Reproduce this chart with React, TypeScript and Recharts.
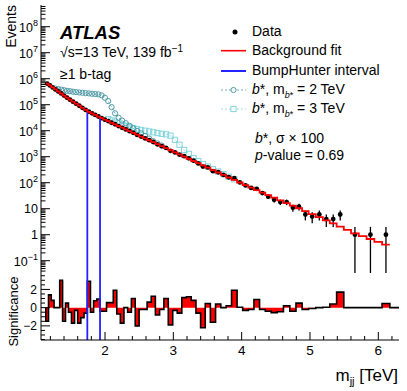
import React from "react";
import {
  ComposedChart,
  Line,
  Scatter,
  Area,
  XAxis,
  YAxis,
  ErrorBar,
  ReferenceLine,
} from "recharts";

const FONT = "'Liberation Sans', Arial, Helvetica, sans-serif";
const TEAL = "#4f9ba6";
const CYAN = "#83d5dc";
const BLUE = "#2323ff";

// axis ranges (TeV, events, significance)
const X_MIN = 1.063;
const X_MAX = 6.303;
const Y_MIN = 0.0337;
const Y_MAX = 6.84e8;
const SIG_MIN = -3.55;
const SIG_MAX = 3.8;

// mjj bin edges [TeV]
const binEdges = [
  1.133, 1.173, 1.213, 1.254, 1.295, 1.337, 1.379, 1.422, 1.465, 1.509,
  1.554, 1.6, 1.646, 1.693, 1.741, 1.787, 1.833, 1.88, 1.927, 1.974,
  2.022, 2.071, 2.121, 2.172, 2.224, 2.277, 2.331, 2.386, 2.442, 2.499,
  2.557, 2.616, 2.676, 2.737, 2.799, 2.862, 2.926, 2.991, 3.057, 3.124,
  3.192, 3.261, 3.331, 3.399, 3.467, 3.542, 3.618, 3.695, 3.773, 3.852,
  3.933, 4.015, 4.098, 4.18, 4.262, 4.346, 4.432, 4.52, 4.612, 4.705,
  4.795, 4.885, 4.98, 5.085, 5.188, 5.29, 5.39, 5.495, 5.601, 5.715,
  5.828, 5.942, 6.055, 6.169,
];

// background fit per bin
const bkgFit = [
  652000, 550000, 461000, 386000, 324000, 270000, 225000, 187000, 157000, 132000,
  110000, 91600, 76200, 63100, 53500, 46600, 40500, 35100, 30500, 26700,
  23300, 20200, 17500, 15200, 13100, 11200, 9640, 8240, 7030, 5970,
  5070, 4290, 3610, 3030, 2550, 2130, 1770, 1480, 1220, 1010,
  834, 684, 564, 465, 379, 307, 247, 199, 159, 128,
  102, 81.5, 64.9, 51.9, 41.3, 33.2, 26.5, 21.0, 16.4, 13.1,
  10.4, 8.13, 6.22, 4.72, 3.57, 2.71, 2.04, 1.53, 1.13, 0.877,
  0.684, 0.533, 0.415,
];

// observed events per bin
const dataCounts = [
  650790, 551040, 461540, 386000, 324000, 271560, 224290, 187220, 156800, 131380,
  109900, 91085, 75896, 62950, 54170, 46492, 40651, 35278, 30430, 26635,
  23384, 20278, 17751, 15114, 12906, 11200, 9591, 8331, 6862, 5955,
  5056, 4329, 3685, 2986, 2540, 2176, 1690, 1468, 1199, 1045,
  869, 705, 550, 418, 388, 279, 253, 199, 162, 149,
  103, 79, 63, 58, 40, 29, 22, 18, 18, 11,
  12, 6, 5, 6, 4, 4, 6, 0, 1, 0,
  1, 0, 1,
];

// bin-by-bin significance
const significance = [
  -1.5, 1.4, 0.8, 0, 0, 3.0, -1.5, 0.5, -0.5, -1.7,
  -0.3, -1.7, -1.1, -0.6, 2.9, -0.5, 0.75, 0.95, -0.4, -0.4,
  0.55, 0.55, 1.9, -0.7, -1.7, 0, -0.5, 1.0, -2.0, -0.2,
  -0.2, 0.6, 1.25, -0.8, -0.2, 1.0, -1.9, -0.3, -0.6, 1.1,
  1.2, 0.8, -0.6, -2.2, 0.45, -1.6, 0.4, 0, 0.2, 1.9,
  0.05, -0.3, -0.2, 0.9, -0.2, -0.4, -0.55, -0.45, 0.2, -0.4,
  0.5, -0.2, -0.1, 0, 0.05, 0.4, 1.7, 0, 0, 0,
  0, 0, 0.45,
];

// b* (m = 2 TeV) + background, starting at bin index 3
const bStar2First = 3;
const bStar2 = [
  417000, 398000, 380000, 359000, 343000, 331000, 316000, 305000, 295000, 288000,
  279000, 272000, 263000, 257000, 251000, 229000, 186000, 138000, 81300, 46800,
  31600, 24500, 19500, 15500, 12300, 9770, 7940, 6310, 5010, 3980,
  3240, 2690,
];

// b* (m = 3 TeV) + background, starting at bin index 20
const bStar3First = 20;
const bStar3 = [
  28200, 25100, 22400, 20000, 17400, 15500, 13800, 12600, 11500, 10700,
  10000, 9330, 8710, 8130, 7590, 7240, 6460, 4470, 2880, 1820,
  1290, 891, 676, 525, 417, 331, 269, 214, 170, 135,
];

const bumpHunter = [1.741, 1.927];

const xTicks = [
  1.2, 1.4, 1.6, 1.8, 2, 2.2, 2.4, 2.6, 2.8, 3, 3.2, 3.4, 3.6, 3.8, 4, 4.2,
  4.4, 4.6, 4.8, 5, 5.2, 5.4, 5.6, 5.8, 6, 6.2,
];
const sigTicks = [-3.5, -3, -2.5, -2, -1.5, -1, -0.5, 0, 0.5, 1, 1.5, 2, 2.5, 3, 3.5];

const yTicks: number[] = [];
for (let e = -2; e <= 8; e++) {
  for (let m = 1; m <= 9; m++) {
    const v = m * Math.pow(10, e);
    if (v >= Y_MIN && v <= Y_MAX) yTicks.push(v);
  }
}

const centers = bkgFit.map((_, i) => (binEdges[i] + binEdges[i + 1]) / 2);
const nBins = bkgFit.length;

const fitSteps = binEdges.map((e, i) => ({ x: e, y: bkgFit[Math.min(i, nBins - 1)] }));

const dataPts = dataCounts
  .map((n, i) => ({
    x: centers[i],
    y: n,
    err: [Math.min(Math.sqrt(n), n - Y_MIN), Math.sqrt(n)],
  }))
  .filter((d) => d.y > 0);

const b2Pts = bStar2.map((v, i) => ({ x: centers[bStar2First + i], y: v }));
const b3Pts = bStar3.map((v, i) => ({ x: centers[bStar3First + i], y: v }));

const sigSteps = [
  { x: binEdges[0], s: 0 },
  ...significance.map((s, i) => ({ x: binEdges[i], s })),
  { x: binEdges[nBins], s: significance[nBins - 1] },
  { x: binEdges[nBins], s: 0 },
  { x: X_MAX, s: 0 },
];

const isInt = (v: number) => Math.abs(v - Math.round(v)) < 1e-6;
const isDecade = (v: number) => isInt(Math.log10(v));
const isEven = (v: number) => isInt(v / 2);

type Dir = "up" | "down" | "left" | "right";

function makeTick(
  dir: Dir,
  isMajor: (v: number) => boolean,
  major: number,
  minor: number,
  label?: (x: number, y: number, v: number) => React.ReactNode
) {
  // eslint-disable-next-line @typescript-eslint/no-explicit-any
  return (props: any) => {
    const { x, y, payload } = props;
    const v = payload.value;
    const mj = isMajor(v);
    const len = mj ? major : minor;
    let x2 = x;
    let y2 = y;
    if (dir === "up") y2 = y - len;
    else if (dir === "down") y2 = y + len;
    else if (dir === "right") x2 = x + len;
    else x2 = x - len;
    return (
      <g key={`t-${dir}-${v}`}>
        <line x1={x} y1={y} x2={x2} y2={y2} stroke="#000" strokeWidth={1} />
        {mj && label ? label(x, y, v) : null}
      </g>
    );
  };
}

const logLabel = (x: number, y: number, v: number) => {
  const n = Math.round(Math.log10(v));
  if (n === 0 || n === 1) {
    return (
      <text x={x - 3} y={y + 4.5} textAnchor="end" fontFamily={FONT} fontSize={12.5} fill="#000">
        {n === 0 ? "1" : "10"}
      </text>
    );
  }
  return (
    <text x={x - 3} y={y + 5.5} textAnchor="end" fontFamily={FONT} fontSize={12.5} fill="#000">
      10
      <tspan dy={-6} fontSize={9}>
        {n < 0 ? `\u2212${-n}` : n}
      </tspan>
    </text>
  );
};

const sigLabel = (x: number, y: number, v: number) => (
  <text x={x - 4} y={y + 4.3} textAnchor="end" fontFamily={FONT} fontSize={12} fill="#000">
    {v < 0 ? `\u2212${-v}` : v}
  </text>
);

const xLabel = (x: number, y: number, v: number) => (
  <text x={x} y={y + 15} textAnchor="middle" fontFamily={FONT} fontSize={13.5} fill="#000">
    {v}
  </text>
);

// eslint-disable-next-line @typescript-eslint/no-explicit-any
const dataDot = (p: any) => <circle cx={p.cx} cy={p.cy} r={2.4} fill="#000" />;
// eslint-disable-next-line @typescript-eslint/no-explicit-any
const circleDot = (p: any) => (
  <circle key={`c${p.index}`} cx={p.cx} cy={p.cy} r={2.6} fill="none" stroke={TEAL} strokeWidth={1} />
);
// eslint-disable-next-line @typescript-eslint/no-explicit-any
const squareDot = (p: any) => (
  <rect key={`s${p.index}`} x={p.cx - 2.6} y={p.cy - 2.6} width={5.2} height={5.2} fill="none" stroke={CYAN} strokeWidth={1} />
);

const axisLine = { stroke: "#000", strokeWidth: 1 };

// main panel is drawn in two stacked layers so the fit sits above the data points
function MainPanel({ layer }: { layer: "under" | "over" }) {
  const over = layer === "over";
  const bhIdx = bumpHunter.map((e) => binEdges.indexOf(e));
  return (
    <ComposedChart width={407} height={273} margin={{ top: 5, right: 8, bottom: 0, left: 0 }}>
      <XAxis
        xAxisId="b"
        dataKey="x"
        type="number"
        domain={[X_MIN, X_MAX]}
        allowDataOverflow
        ticks={xTicks}
        interval={0}
        height={0}
        tickSize={0}
        tickMargin={0}
        tickLine={false}
        axisLine={over ? axisLine : false}
        tick={over ? makeTick("up", isInt, 7, 3.5) : false}
      />
      <XAxis
        xAxisId="t"
        orientation="top"
        type="number"
        domain={[X_MIN, X_MAX]}
        allowDataOverflow
        ticks={xTicks}
        interval={0}
        height={0}
        tickSize={0}
        tickMargin={0}
        tickLine={false}
        axisLine={over ? axisLine : false}
        tick={over ? makeTick("down", isInt, 7, 3.5) : false}
      />
      <YAxis
        yAxisId="l"
        type="number"
        scale="log"
        domain={[Y_MIN, Y_MAX]}
        allowDataOverflow
        ticks={yTicks}
        interval={0}
        width={41}
        tickSize={0}
        tickMargin={0}
        tickLine={false}
        axisLine={over ? axisLine : false}
        tick={over ? makeTick("right", isDecade, 9, 4.5, logLabel) : false}
      />
      <YAxis
        yAxisId="r"
        orientation="right"
        type="number"
        scale="log"
        domain={[Y_MIN, Y_MAX]}
        allowDataOverflow
        ticks={yTicks}
        interval={0}
        width={0}
        tickSize={0}
        tickMargin={0}
        tickLine={false}
        axisLine={over ? axisLine : false}
        tick={over ? makeTick("left", isDecade, 9, 4.5) : false}
      />
      {!over && (
        <Line
          xAxisId="b"
          yAxisId="l"
          data={b3Pts}
          dataKey="y"
          type="linear"
          stroke={CYAN}
          strokeWidth={0.8}
          strokeDasharray="2 2"
          dot={squareDot}
          isAnimationActive={false}
        />
      )}
      {!over && (
        <Line
          xAxisId="b"
          yAxisId="l"
          data={b2Pts}
          dataKey="y"
          type="linear"
          stroke={TEAL}
          strokeWidth={0.8}
          strokeDasharray="2 2"
          dot={circleDot}
          isAnimationActive={false}
        />
      )}
      {!over && (
        <Scatter
          xAxisId="b"
          yAxisId="l"
          data={dataPts}
          dataKey="y"
          shape={dataDot}
          isAnimationActive={false}
        >
          <ErrorBar dataKey="err" direction="y" width={0} stroke="#000" strokeWidth={1.3} isAnimationActive={false} />
        </Scatter>
      )}
      {over &&
        bumpHunter.map((e, k) => (
          <ReferenceLine
            key={`bh${k}`}
            xAxisId="b"
            yAxisId="l"
            segment={[
              { x: e, y: Y_MIN },
              { x: e, y: bkgFit[bhIdx[k] - 1] },
            ]}
            stroke={BLUE}
            strokeWidth={1.8}
            ifOverflow="visible"
          />
        ))}
      {over && (
        <Line
          xAxisId="b"
          yAxisId="l"
          data={fitSteps}
          dataKey="y"
          type="stepAfter"
          stroke="#ff0000"
          strokeWidth={1.8}
          dot={false}
          isAnimationActive={false}
        />
      )}
    </ComposedChart>
  );
}

function SigPanel() {
  return (
    <ComposedChart width={407} height={128} margin={{ top: 10, right: 8, bottom: 0, left: 0 }}>
      <XAxis
        xAxisId="b"
        dataKey="x"
        type="number"
        domain={[X_MIN, X_MAX]}
        allowDataOverflow
        ticks={xTicks}
        interval={0}
        height={51}
        tickSize={0}
        tickMargin={0}
        tickLine={false}
        axisLine={axisLine}
        tick={makeTick("up", isInt, 8, 4, xLabel)}
      />
      <XAxis
        xAxisId="t"
        orientation="top"
        type="number"
        domain={[X_MIN, X_MAX]}
        allowDataOverflow
        ticks={xTicks}
        interval={0}
        height={0}
        tickSize={0}
        tickMargin={0}
        tickLine={false}
        axisLine={axisLine}
        tick={makeTick("down", isInt, 5, 3.5)}
      />
      <YAxis
        yAxisId="l"
        type="number"
        domain={[SIG_MIN, SIG_MAX]}
        allowDataOverflow
        ticks={sigTicks}
        interval={0}
        width={41}
        tickSize={0}
        tickMargin={0}
        tickLine={false}
        axisLine={axisLine}
        tick={makeTick("right", isEven, 9, 4, sigLabel)}
      />
      <YAxis
        yAxisId="r"
        orientation="right"
        type="number"
        domain={[SIG_MIN, SIG_MAX]}
        allowDataOverflow
        ticks={sigTicks}
        interval={0}
        width={0}
        tickSize={0}
        tickMargin={0}
        tickLine={false}
        axisLine={axisLine}
        tick={makeTick("left", isEven, 9, 4)}
      />
      <Area
        xAxisId="b"
        yAxisId="l"
        data={sigSteps}
        dataKey="s"
        type="stepAfter"
        baseValue={0}
        fill="#ff0000"
        fillOpacity={1}
        stroke="none"
        isAnimationActive={false}
      />
      <Line
        xAxisId="b"
        yAxisId="l"
        data={sigSteps}
        dataKey="s"
        type="stepAfter"
        stroke="#000"
        strokeWidth={1.6}
        dot={false}
        isAnimationActive={false}
      />
      {bumpHunter.map((e, k) => (
        <ReferenceLine
          key={`sbh${k}`}
          xAxisId="b"
          yAxisId="l"
          segment={[
            { x: e, y: SIG_MIN },
            { x: e, y: SIG_MAX },
          ]}
          stroke={BLUE}
          strokeWidth={1.8}
        />
      ))}
    </ComposedChart>
  );
}

function Overlay() {
  const t = { fontFamily: FONT, fill: "#000" };
  return (
    <svg
      width={407}
      height={391}
      style={{ position: "absolute", left: 0, top: 0, pointerEvents: "none" }}
    >
      <text {...t} fontSize={14} transform="rotate(-90)" x={-5} y={15.5} textAnchor="end">
        Events
      </text>
      <text {...t} fontSize={13} transform="rotate(-90)" x={-311.5} y={17.5} textAnchor="middle">
        Significance
      </text>
      <text {...t} fontSize={17} x={398} y={381} textAnchor="end">
        m
        <tspan dy={4} fontSize={11}>
          jj
        </tspan>
        <tspan dy={-4}> [TeV]</tspan>
      </text>

      <text {...t} fontSize={18.5} fontWeight="bold" fontStyle="italic" x={60} y={38.5}>
        ATLAS
      </text>
      <text {...t} fontSize={14} x={60} y={57}>
        {"\u221As=13 TeV, 139 fb"}
        <tspan dy={-5} fontSize={10}>
          {"\u22121"}
        </tspan>
      </text>
      <text {...t} fontSize={14} x={60} y={79}>
        {"\u22651 b-tag"}
      </text>

      {/* legend */}
      <circle cx={235} cy={32} r={2.5} fill="#000" />
      <text {...t} fontSize={14} x={252} y={36}>
        Data
      </text>
      <line x1={221} x2={246} y1={50.7} y2={50.7} stroke="#ff0000" strokeWidth={1.6} />
      <text {...t} fontSize={14} x={252} y={55.2}>
        Background fit
      </text>
      <line x1={221} x2={246} y1={71} y2={71} stroke={BLUE} strokeWidth={2} />
      <text {...t} fontSize={14} x={252} y={75}>
        BumpHunter interval
      </text>
      <line x1={221} x2={246} y1={90} y2={90} stroke={TEAL} strokeWidth={0.8} strokeDasharray="2 2" />
      <circle cx={233.5} cy={90} r={2.6} fill="#fff" stroke={TEAL} strokeWidth={1} />
      <text {...t} fontSize={14} x={252} y={93.5}>
        <tspan fontStyle="italic">b</tspan>*, m
        <tspan dy={4} fontSize={9} fontStyle="italic">
          b
        </tspan>
        <tspan fontSize={9}>*</tspan>
        <tspan dy={-4}> = 2 TeV</tspan>
      </text>
      <line x1={221} x2={246} y1={109} y2={109} stroke={CYAN} strokeWidth={0.8} strokeDasharray="2 2" />
      <rect x={230.9} y={106.4} width={5.2} height={5.2} fill="#fff" stroke={CYAN} strokeWidth={1} />
      <text {...t} fontSize={14} x={252} y={112.8}>
        <tspan fontStyle="italic">b</tspan>*, m
        <tspan dy={4} fontSize={9} fontStyle="italic">
          b
        </tspan>
        <tspan fontSize={9}>*</tspan>
        <tspan dy={-4}> = 3 TeV</tspan>
      </text>

      <text {...t} fontSize={14} x={255} y={143.3}>
        <tspan fontStyle="italic">b</tspan>
        {"*,  \u03C3 \u00D7 100"}
      </text>
      <text {...t} fontSize={14} x={255} y={160}>
        <tspan fontStyle="italic">p</tspan>-value = 0.69
      </text>
    </svg>
  );
}

export default function App() {
  return (
    <div style={{ position: "absolute", left: 0, top: 0, width: 407, height: 391, background: "#fff" }}>
      <div style={{ position: "absolute", left: 0, top: 0 }}>
        <MainPanel layer="under" />
      </div>
      <div style={{ position: "absolute", left: 0, top: 0 }}>
        <MainPanel layer="over" />
      </div>
      <div style={{ position: "absolute", left: 0, top: 263 }}>
        <SigPanel />
      </div>
      <Overlay />
    </div>
  );
}
